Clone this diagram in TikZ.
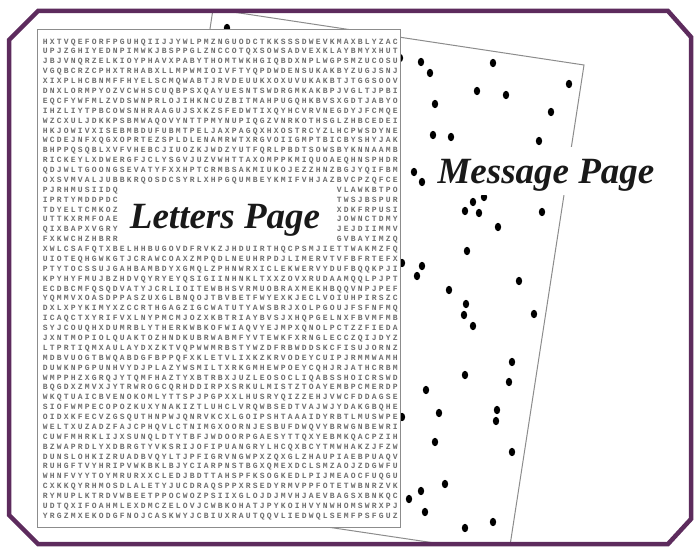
\documentclass[tikz,border=0pt]{standalone}
\usepackage{fontspec}
\newfontfamily\labelfont{Liberation Serif}
\newfontfamily\gridfont[LetterSpace=27.5]{Liberation Mono}
\definecolor{framepurple}{RGB}{93,43,93}
\definecolor{edgegray}{RGB}{140,140,140}
\definecolor{lettergray}{RGB}{110,110,110}
\definecolor{labelink}{RGB}{25,25,25}
\tikzset{
  gridrow/.style={anchor=base west, inner sep=0pt, text=lettergray,
    font=\gridfont\bfseries\fontsize{8}{9}\selectfont},
  pagelabel/.style={fill=white, inner sep=0pt, anchor=base, text=labelink,
    font=\labelfont\bfseries\itshape\fontsize{37}{40}\selectfont},
  pageedge/.style={draw=edgegray, line width=1pt, fill=white},
  inkdot/.style={fill=black},
  frameline/.style={draw=framepurple, line width=4.5pt, line join=miter}
}
\begin{document}
\begin{tikzpicture}[x=1pt,y=-1pt]
\useasboundingbox (0,0) rectangle (695,548);
\fill[white] (0,0) rectangle (695,548);

% page with the scattered dots, tilted behind the letter sheet
\begin{scope}
  \clip (38,11) -- (668,11) -- (691,37) -- (691,519) -- (668,544) -- (38,544) -- (9,515) -- (9,40) -- cycle;
  \path[pageedge] (213,9) -- (584,65) -- (508.7,554) -- (139,499) -- cycle;
  \foreach \p in {(227,28),(400,58),(421,62),(430,73),(493,63),(477,91),(506,95),
      (569,84),(435,104),(551,112),(433,135),(451,137),(539,141),(414,172),
      (422,182),(484,197),(473,202),(465,211),(479,213),(498,227),(542,212),
      (467,251),(402,263),(422,266),(417,276),(449,290),(519,281),(466,304),
      (464,315),(473,326),(534,314),(512,362),(465,375),(509,382),(426,390),
      (402,417),(439,413),(497,410),(496,421),(435,442),(512,452),(445,484),
      (421,491),(409,499),(425,512),(493,522),(465,528)}
    \fill[inkdot] \p ellipse[x radius=3.2, y radius=4.2];
\end{scope}

% the sheet of letters
\path[pageedge] (37,30) rectangle (400,527);

\foreach \txt [count=\i from 1] in {
HXTVQEFORFPGUHQIIJJYWLPMZNGUODCTKKSSSDWEVKMAXBLYZAC,
UPJZGHIYEDNPIMWKJBSPPGLZNCCOTQXSOWSADVEXKLAYBMYXHUT,
JBJVNQRZELKIOYPHAVXPABYTHOMTWKHGIQBDXNPLWGPSMZUCOSU,
VGQBCRZCPHXTRHABXLLMPWMIOIVFTYQPDWDENSUKAKBYZUGJSNJ,
XIXPLHCBNMFFHYELSCMQWABTJRVDEUUKXOXUVUKAKBTJTGGSOOV,
DNXLORMPYOZVCWHSCUQBPSXQAYUESNTSWDRGMKAKBPJVGLTJPBI,
EQCFYWFMLZVDSWNPRLOJIHKNCUZBITMAHPUGQHKBVSXGDTJABYO,
IHZLIYTPBCOWSNHRAAGUJSXKZSFEDWTIXQYHCVRVNEGDYJFCMQE,
WZCXULJDKKPSBMWAQOVYNTTPMYNUPIQGZVNRKOTHSGLZHBCEDEI,
HKJOWIVXISEBMBDUFUBMTPELJAXPAGQXHXOSTRCYZLHCPWSDYNE,
WCDEJNFXQGXOPRTEZSPLDLENAMRWTXRGVOIIGMPTBICBYSHYJAK,
BHPPQSQBLXVFVHEBCJIUOZKJWDZYUTFQRLPBDTSOWSBYKNNAAMB,
RICKEYLXDWERGFJCLYSGVJUZVWHTTAXOMPPKMIQUOAEQHNSPHDR,
QDJWLTGOONGSEVATYFXXHPTCRMBSAKMIUKOJEZZHNZBGJYQIFBM,
OXSVMVALJUBBKRQOSDCSYRLXHPGQUMBEYKMIFVHJAZBVCPZQFCE}
  \node[gridrow] (row\i) at (42.6, {44.1+9.88*(\i-1)}) {\txt};

\foreach \lft/\rgt [count=\i from 16] in {
PJRHMUSIIDQ/VLAWKBTPO, IPRTYMDDPDC/TWSJBSPUR, TDYELTCMKOZ/XDKFRPUSI,
UTTKXRMFOAE/JOWNCTDMY, QIXBAPXVGRY/JEJDIIMMV, FXKWCHZHBRR/GVBAYIMZQ} {
  \node[gridrow] (row\i a) at (42.6, {44.1+9.88*(\i-1)}) {\lft};
  \node[gridrow] (row\i b) at (336.6, {44.1+9.88*(\i-1)}) {\rgt};
}

\foreach \txt [count=\i from 22] in {
XWLCSAFQTXBELHHBUGOVDFRVKZJHDUIRTHQCPSMJIETTWAKMZFQ,
UIOTEQHGWKGTJCRAWCOAXZMPQDLNEUHRPDJLIMERVTVFBFRTEFX,
PTYTOCSSUJGAHBAMBDYXGMQLZPHNWRXICLEKWERVYDUFBQQKPJI,
KPYHYFMUJBZHDVQYRYEYQSIGIINHNKLTXXZOVXRUDAAMQQLPJPT,
ECDBCMFQSQDVATYJCRLIOITEWBHSVRMUOBRAXMEKHBQQVNPJPEF,
YQMMVXOASDPPASZUXGLBNQOJTBVBETFWYEXKJECLVOIUHPIRSZC,
DXLXPYKIMYXZCCRTHGAGZIGCWATUTYAWSBRJXOLPGOUJFSFNFMQ,
ICAQCTXYRIFVXLNYPMCMJOZXKBTRIAYBVSJXHQPGELNXFBVMFMB,
SYJCOUQHXDUMRBLYTHERKWBKOFWIAQVYEJMPXQNOLPCTZZFIEDA,
JXNTMOPIOLQUAKTOZHNDKUBRWABMFYVTEWKFXRNGLECCZQIJDYZ,
LTPRTIQMXAULAYDXZKTVQPWWMRBSTYWZDFRBWDDSKCFISUJORNZ,
MDBVUOGTBWQABDGFBPPQFXKLETVLIXKZKRVODEYCUIPJRMMWAMH,
DUWKNPGPUNHVYDJPLAZYWSMILTXRKGMHEWPOEYCQHJRJATHCRBM,
WMPPHZXGRQJYTQMFHAZTYXBTRBXJUZLEOSOCLIQABSSHOICRSWD,
BQGDXZMVXJYTRWROGCQRHDDIRPXSRKULMISTZTOAYEMBPCMERDP,
WKQTUAICBVENOKOMLYTTSPJPGPXXLHUSRYQIZZEHJVWCFDDAGSE,
SIOFWMPECOPOZKUXYNAKIZTLUHCLVRQWBSEDTVAJWJYDAKGBQHE,
OIDXKFECVZGSQUTHNPWJQNRVKCXLGOIPSHTAAAIDYRBTLMUSWPE,
WELTXUZADZFAJCPHQVLCTNIMGXOORNJESBUFDWQVYBRWGNBEWRI,
CUWFMHRKLIJXSUNQLDTYTBFJWDOORPGAESYTTQXYEBMKQACPZIH,
BZWAPRDLYXDBRGTYVKSRIJOFIPUANGRYLHCQXBCYTMWHAKZJFZW,
DUNSLOHKIZRUADBVQYLTJPFIGRVNGWPXZQXGLZHAUPIAEBPUAQV,
RUHGFTVYHRIPVWKBKLBJYCIARPNSTBGXQMEXDCLSMZAOJZDGWFU,
WHNFVYYTOYMRURXXCLEDJBDTTAHSPFKSOGKEDLPIJMEAOCFUQGU,
CXKKQYRHMOSDLALETYJUCDRAQSPPXRSEDYRMVPPFOTETWBNRZVK,
RYMUPLKTRDVWBEETPPOCWOZPSIIXGLOJDJMVHJAEVBAGSXBNKQC,
UDTQXIFOAHMLEXDMCZELOVJCWBKOHATJPYKOIHVYNWHOMSWRXPJ,
YRGZMXEKODGFNOJCASKWYJCBIUXRAUTQQVLIEDWQLSEMFPSFGUZ}
  \node[gridrow] (row\i) at (42.6, {44.1+9.88*(\i-1)}) {\txt};

% titles of the two sheets
\node[pagelabel, minimum width=210pt, text height=40pt, text depth=15pt]
  (letterslabel) at (225,228) {Letters Page};
\node[pagelabel, minimum width=236pt, text height=36pt, text depth=12pt]
  (messagelabel) at (546,183) {Message Page};

% chamfered outer frame
\path[frameline] (38,11) -- (668,11) -- (691,37) -- (691,519) -- (668,544)
  -- (38,544) -- (9,515) -- (9,40) -- cycle;
\end{tikzpicture}
\end{document}
